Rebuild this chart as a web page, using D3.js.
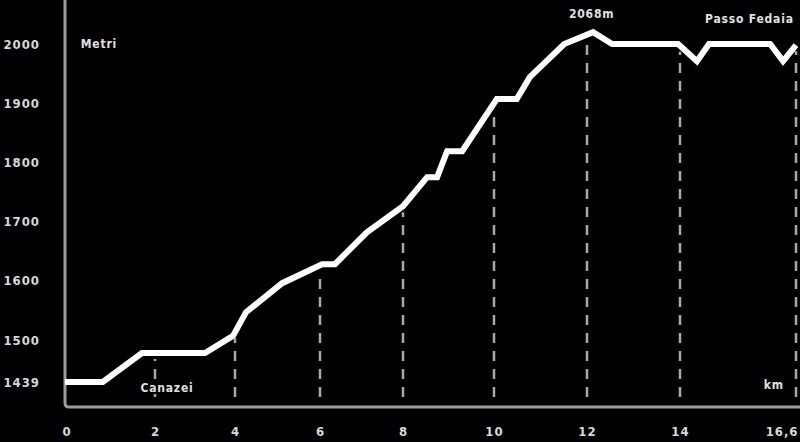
<!DOCTYPE html>
<html>
<head>
<meta charset="utf-8">
<script src="https://cdn.jsdelivr.net/npm/d3@7"></script>
<style>
  html, body { margin: 0; padding: 0; background: #000; }
  svg { display: block; }
  text { font-family: "DejaVu Sans Condensed", "DejaVu Sans", sans-serif; }
</style>
</head>
<body>
<svg id="chart" width="800" height="442"></svg>
<script>
// ---- data (km, metres as read on the chart's elevation axis) ----
const distanceKm = [0, 0.84, 1.71, 3.25, 3.95, 4.26, 5.11, 6.05, 6.36, 7.13, 8.0, 8.53, 8.75, 8.97, 9.30, 10.06, 10.49, 10.77, 11.51, 12.13, 12.54, 13.96, 14.38, 14.65, 16.02, 16.31, 16.6];
const elevationM = [1439, 1439, 1481, 1481, 1507, 1547, 1596, 1628, 1628, 1682, 1726, 1775, 1775, 1819, 1819, 1907, 1907, 1944, 2000, 2020, 2000, 2000, 1971, 2000, 2000, 1971, 1998];
const xTicks = [0, 2, 4, 6, 8, 10, 12, 14, 16.6];
const xTickLabels = ["0", "2", "4", "6", "8", "10", "12", "14", "16,6"];
const guideTicks = [2, 4, 6, 8, 10, 12, 14, 16.6];
const yTicks = [1439, 1500, 1600, 1700, 1800, 1900, 2000];
const yTickLabels = ["1439", "1500", "1600", "1700", "1800", "1900", "2000"];
const annotations = [
  { text: "Metri", km: 0.35, m: 2000, anchor: "start" },
  { text: "2068m", km: 12.1, m: 2051, anchor: "middle" },
  { text: "Passo Fedaia", km: 16.55, m: 2042, anchor: "end" },
  { text: "Canazei", km: 2.3, m: 1431, anchor: "middle" },
  { text: "km", km: 16.1, m: 1435, anchor: "middle" }
];

// ---- scales (the original drawing uses uneven spacing between ticks) ----
const svg = d3.select("#chart");
const x = d3.scaleLinear()
  .domain(xTicks)
  .range([65, 155, 235, 320, 403, 494, 587, 680, 796]);
const y = d3.scaleLinear()
  .domain([1439, 1500, 2000])
  .range([382, 340, 44]);
const axisY = 407, axisX = 65;

// axis frame
svg.append("path")
  .attr("d", `M${axisX},0 V${axisY - 4} Q${axisX},${axisY} ${axisX + 4},${axisY} H800`)
  .attr("fill", "none")
  .attr("stroke", "#9c9c9c")
  .attr("stroke-width", 3);

// profile points in pixels, for guide heights
const pts = distanceKm.map((d, i) => [x(d), y(elevationM[i])]);
function lineYAt(px) {
  for (let i = 1; i < pts.length; i++) {
    if (px <= pts[i][0] + 0.001) {
      const [x0, y0] = pts[i - 1], [x1, y1] = pts[i];
      const t = x1 === x0 ? 0 : (px - x0) / (x1 - x0);
      return y0 + t * (y1 - y0);
    }
  }
  return pts[pts.length - 1][1];
}

// dashed guides
svg.append("g").selectAll("line")
  .data(guideTicks)
  .join("line")
  .attr("x1", d => x(d)).attr("x2", d => x(d))
  .attr("y1", axisY - 2)
  .attr("y2", d => lineYAt(x(d)) + 6)
  .attr("stroke", "#a8a8a8")
  .attr("stroke-width", 2.5)
  .attr("stroke-dasharray", "10,8")
  .attr("stroke-dashoffset", 10);

// x axis labels
const xAxis = d3.axisBottom(x)
  .tickValues(xTicks)
  .tickSize(0)
  .tickPadding(20)
  .tickFormat((d, i) => xTickLabels[i]);
const gx = svg.append("g").attr("transform", `translate(0,${axisY})`).call(xAxis);
gx.select(".domain").remove();
gx.selectAll("text")
  .attr("fill", "#d8d8d8")
  .attr("font-size", 13)
  .attr("font-weight", "bold")
  .attr("letter-spacing", 1)
  .attr("text-anchor", (d, i) => i === xTicks.length - 1 ? "end" : (i === 0 ? "start" : "middle"))
  .attr("dx", (d, i) => i === xTicks.length - 1 ? 2 : (i === 0 ? -3 : 0));

// y axis labels
const yAxis = d3.axisLeft(y)
  .tickValues(yTicks)
  .tickSize(0)
  .tickPadding(25)
  .tickFormat((d, i) => yTickLabels[i]);
const gy = svg.append("g").attr("transform", `translate(${axisX},0)`).call(yAxis);
gy.select(".domain").remove();
gy.selectAll("text")
  .attr("fill", "#d8d8d8")
  .attr("font-size", 13)
  .attr("font-weight", "bold")
  .attr("letter-spacing", 1);

// profile line
svg.append("path")
  .datum(distanceKm.map((d, i) => [d, elevationM[i]]))
  .attr("fill", "none")
  .attr("stroke", "#ffffff")
  .attr("stroke-width", 6)
  .attr("stroke-linejoin", "miter")
  .attr("d", d3.line().x(d => x(d[0])).y(d => y(d[1])));

// annotations
svg.append("g").selectAll("text")
  .data(annotations)
  .join("text")
  .attr("x", d => x(d.km))
  .attr("y", d => y(d.m))
  .attr("dy", "0.35em")
  .attr("text-anchor", d => d.anchor)
  .attr("fill", "#e0e0e0")
  .attr("font-size", 12)
  .attr("font-weight", "bold")
  .attr("letter-spacing", 0.8)
  .attr("stroke", "#000")
  .attr("stroke-width", 4)
  .attr("paint-order", "stroke")
  .text(d => d.text);
</script>
</body>
</html>
